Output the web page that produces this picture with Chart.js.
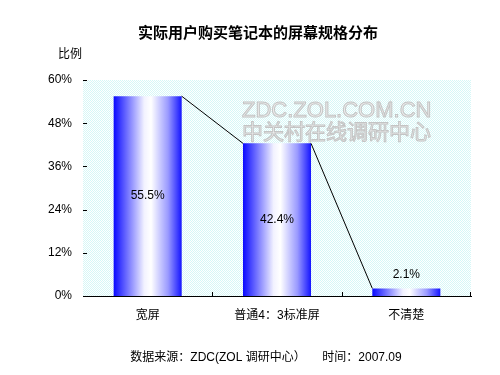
<!DOCTYPE html>
<html>
<head>
<meta charset="utf-8">
<script src="https://cdn.jsdelivr.net/npm/chart.js@4"></script>
<style>
  body { margin: 0; background: #fff; }
</style>
</head>
<body>
<canvas id="chart" width="500" height="375"></canvas>
<script>
const categories = ['宽屏', '普通4：3标准屏', '不清楚'];
const shares = [55.5, 42.4, 2.1];
const yTicks = [0, 12, 24, 36, 48, 60];

const titleText = '实际用户购买笔记本的屏幕规格分布';
const yTitle = '比例';
const footerText = '数据来源：ZDC(ZOL 调研中心）     时间：2007.09';

const FONT = '"Liberation Sans", "Noto Sans CJK SC", sans-serif';

function dotPattern(ctx) {
    const c = document.createElement('canvas');
    c.width = 2;
    c.height = 2;
    const p = c.getContext('2d');
    p.fillStyle = '#ffffff';
    p.fillRect(0, 0, 2, 2);
    p.fillStyle = '#d6f7f7';
    p.fillRect(0, 0, 1, 1);
    p.fillRect(1, 1, 1, 1);
    return ctx.createPattern(c, 'repeat');
}

const decorations = {
    id: 'decorations',
    beforeDatasetsDraw(chart) {
        const ctx = chart.ctx;
        const area = chart.chartArea;
        ctx.save();
        ctx.fillStyle = dotPattern(ctx);
        ctx.fillRect(area.left, area.top, area.right - area.left, area.bottom - area.top);

        // watermark
        ctx.textAlign = 'left';
        ctx.textBaseline = 'middle';
        ctx.font = '22px ' + FONT;
        ctx.lineWidth = 1;
        ctx.strokeStyle = '#c4c4c4';
        ctx.fillStyle = '#ececec';
        ctx.fillText('ZDC.ZOL.COM.CN', 242, 111);
        ctx.strokeText('ZDC.ZOL.COM.CN', 242, 111);
        ctx.font = '21px "Noto Sans CJK SC", sans-serif';
        ctx.fillText('中关村在线调研中心', 242, 131);
        ctx.strokeText('中关村在线调研中心', 242, 131);
        ctx.restore();

        // bar gradients, one per bar
        const meta = chart.getDatasetMeta(0);
        meta.data.forEach(el => {
            const left = el.x - el.width / 2;
            const g = ctx.createLinearGradient(left, 0, left + el.width, 0);
            g.addColorStop(0, '#0a0aff');
            g.addColorStop(0.45, '#f2f2ff');
            g.addColorStop(0.55, '#ffffff');
            g.addColorStop(0.8, '#9a9aff');
            g.addColorStop(1, '#1414ff');
            el.options = Object.assign({}, el.options, { backgroundColor: g });
        });
    },
    afterDatasetsDraw(chart) {
        const ctx = chart.ctx;
        const meta = chart.getDatasetMeta(0);
        ctx.save();

        // series lines between bar tops
        ctx.strokeStyle = '#000000';
        ctx.lineWidth = 1;
        for (let i = 0; i < meta.data.length - 1; i++) {
            const a = meta.data[i];
            const b = meta.data[i + 1];
            ctx.beginPath();
            ctx.moveTo(a.x + a.width / 2, a.y);
            ctx.lineTo(b.x - b.width / 2, b.y);
            ctx.stroke();
        }

        // value labels
        ctx.fillStyle = '#000000';
        ctx.font = '12px ' + FONT;
        ctx.textAlign = 'center';
        ctx.textBaseline = 'middle';
        meta.data.forEach((el, i) => {
            const txt = shares[i].toFixed(1) + '%';
            if (shares[i] > 10) {
                ctx.fillText(txt, el.x, (el.y + el.base) / 2);
            } else {
                ctx.fillText(txt, el.x, el.y - 14);
            }
        });
        ctx.restore();
    },
    afterDraw(chart) {
        const ctx = chart.ctx;
        const area = chart.chartArea;
        const x = chart.scales.x;
        const y = chart.scales.y;
        ctx.save();

        // inward tick marks
        ctx.strokeStyle = '#000000';
        ctx.lineWidth = 1;
        ctx.beginPath();
        yTicks.forEach(v => {
            const py = Math.round(y.getPixelForValue(v)) + 0.5;
            ctx.moveTo(area.left, py);
            ctx.lineTo(area.left + 4, py);
        });
        for (let i = 1; i <= categories.length; i++) {
            const px = i < categories.length
                ? Math.round((x.getPixelForValue(i - 1) + x.getPixelForValue(i)) / 2) + 0.5
                : area.right - 0.5;
            ctx.moveTo(px, area.bottom);
            ctx.lineTo(px, area.bottom - 4);
        }
        ctx.stroke();

        // texts
        ctx.fillStyle = '#000000';
        ctx.textAlign = 'center';
        ctx.textBaseline = 'middle';
        ctx.font = 'bold 15px "Noto Sans CJK SC", sans-serif';
        ctx.fillText(titleText, 258, 32);
        ctx.font = '12px ' + FONT;
        ctx.fillText(yTitle, 70, 55);
        ctx.fillText(footerText, 266, 358);
        ctx.restore();
    }
};

new Chart(document.getElementById('chart').getContext('2d'), {
    type: 'bar',
    data: {
        labels: categories,
        datasets: [{
            data: shares,
            backgroundColor: '#2020ff',
            borderWidth: 0,
            categoryPercentage: 1,
            barPercentage: 0.526
        }]
    },
    plugins: [decorations],
    options: {
        responsive: false,
        animation: false,
        layout: {
            padding: { top: 80, right: 29, bottom: 0, left: 0 }
        },
        plugins: {
            legend: { display: false },
            tooltip: { enabled: false },
            title: { display: false }
        },
        scales: {
            x: {
                afterFit(scale) { scale.height = 79; },
                grid: { display: false, drawTicks: false },
                border: { display: true, color: '#000000', width: 1 },
                ticks: {
                    color: '#000000',
                    padding: 12,
                    maxRotation: 0,
                    font: { family: FONT, size: 12 }
                }
            },
            y: {
                min: 0,
                max: 60,
                afterFit(scale) { scale.width = 83; },
                afterBuildTicks(scale) {
                    scale.ticks = yTicks.map(v => ({ value: v }));
                },
                grid: { display: false, drawTicks: false },
                border: { display: true, color: '#000000', width: 1 },
                ticks: {
                    color: '#000000',
                    padding: 11,
                    font: { family: FONT, size: 12 },
                    callback: v => v + '%'
                }
            }
        }
    }
});
</script>
</body>
</html>
